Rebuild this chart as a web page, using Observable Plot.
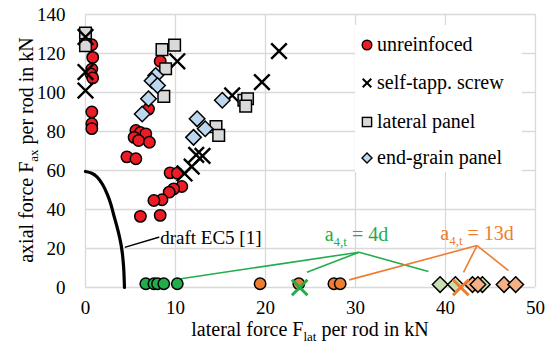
<!DOCTYPE html>
<html><head><meta charset="utf-8">
<script src="https://cdn.jsdelivr.net/npm/d3@7"></script>
<script src="https://cdn.jsdelivr.net/npm/@observablehq/plot@0.6"></script>
<style>
body{margin:0;background:#fff;}
#chart{position:relative;width:549px;height:343px;font-family:'Liberation Serif','Times New Roman',serif;}
#chart svg, #chart svg g, #chart svg text{font-family:'Liberation Serif','Times New Roman',serif !important;font-variant:normal !important;}
#legend{position:absolute;left:355px;top:25px;width:167px;height:147px;background:#fff;}
.lsym{position:absolute;left:4px;width:16px;height:16px;}
.ltxt{position:absolute;left:22px;font-size:20px;line-height:24px;color:#000;white-space:nowrap;}
</style></head><body><div id="chart"><div id="legend"></div></div>
<script>
// ---- data (x = lateral force kN, y = axial force kN) ----
const xTicks = [0, 10, 20, 30, 40, 50];
const yTicks = [0, 20, 40, 60, 80, 100, 120, 140];

const unreinforced = [[0.7,124.5],[0.8,118],[0.7,112],[0.6,109.5],[0.8,107.5],[0.7,90],[0.7,84],[0.7,81.5],
  [8.3,116],[7.0,91.5],[5.6,80.5],[6.1,79.5],[6.7,78.8],[5.4,77],[5.9,75.4],[7.1,74.5],[4.6,67],[5.6,66],
  [9.4,58.8],[10.2,58.6],[10.7,51.8],[9.8,50.6],[9.3,48.9],[8.5,45],[7.6,44.6],[6.1,36.5],[8.3,37]];
const selfTappScrew = [[0,110.5],[0,101],[10.2,116],[21.5,121.2],[19.6,105.3],[16.3,98.5],
  [12.3,68],[13.0,67.5],[11.8,62],[11.0,58.5]];
const lateralPanel = [[0,130.5],[0,124],[8.5,122],[9.9,124.3],[8.9,112.2],[8.7,98],[17.6,96],[18.0,96.8],[17.8,93],[14.5,82.5],[14.8,78]];
const screwOnTop = [[0,128.5]];
const endGrainPanel = [[7.8,108.7],[7.4,106],[8.0,103.6],[7.0,96.8],[6.3,89],[15.2,96],[12.4,86.5],[13.3,81.4],[12.0,77]];

const gap4dUnreinforced = [[6.7,1.9],[7.6,1.9],[8.0,1.9],[8.7,1.9],[10.2,1.9]];
const gap13dUnreinforced = [[19.4,1.9],[23.7,1.9],[27.6,1.9],[28.3,1.9]];
const gap4dScrew = [[23.8,0]];
const gap13dScrew = [[41.7,0]];
const gap4dEndGrain = [[39.4,1.5],[41.1,1.5],[44.1,1.5]];
const gap13dEndGrain = [[43.0,1.5],[43.6,1.5],[46.5,1.5],[47.8,1.5]];

const ec5Curve = [[0,59.5],[0.7,58.6],[1.3,56.6],[1.9,52.8],[2.4,48],[2.8,43],[3.1,37.8],[3.45,32],
  [3.7,27.5],[3.95,22],[4.1,17.3],[4.2,12.5],[4.26,8.7],[4.3,4],[4.33,0]];
const ec5Leader = [[4.44,20.7],[8.14,25.8]];
const ec5Label = [{x:8.3, y:25.6, text:"draft EC5 [1]"}];

const apex4d = [30.4,18.1];
const ends4d = [[10.6,4.5],[24.6,7.8],[38.1,8.2]];
const label4d = [{x:30.1, y:27.2, text:"a_{4,t} = 4d"}];
const apex13d = [43.5,21.5];
const ends13d = [[29.3,3.9],[42.0,7.8],[47.0,8.7]];
const label13d = [{x:43.5, y:27.5, text:"a_{4,t} = 13d"}];

const legendItems = [
  {label:"unreinfoced", kind:"circle", fill:"#ec1c24"},
  {label:"self-tapp. screw", kind:"times", fill:"none"},
  {label:"lateral panel", kind:"square", fill:"#d9d9d9"},
  {label:"end-grain panel", kind:"diamond", fill:"#bdd7ee"}
];

// ---- colours ----
const GREEN = "#22ad4b", ORANGE = "#ee7d31";
const SERIF = "Liberation Serif, Times New Roman, serif";

// custom symbols (size = PI r^2 as Plot passes)
const sym = kind => ({draw(ctx, size){
  const r = Math.sqrt(size / Math.PI);
  if (kind === "diamond") { const h = r * 1.25; ctx.moveTo(0,-h); ctx.lineTo(h,0); ctx.lineTo(0,h); ctx.lineTo(-h,0); ctx.closePath(); }
  else if (kind === "times") { ctx.moveTo(-r,-r); ctx.lineTo(r,r); ctx.moveTo(r,-r); ctx.lineTo(-r,r); }
  else if (kind === "square") { ctx.rect(-r,-r,2*r,2*r); }
}});
const X = d => d[0], Y = d => d[1];

const circles = (data, fill) => Plot.dot(data, {x:X, y:Y, r:5.7, fill, stroke:"#000", strokeWidth:1.5});
const squares = (data, fill) => Plot.dot(data, {x:X, y:Y, r:5.8, symbol:sym("square"), fill, stroke:"#000", strokeWidth:1.5});
const diamonds = (data, fill) => Plot.dot(data, {x:X, y:Y, r:6.2, symbol:sym("diamond"), fill, stroke:"#000", strokeWidth:1.5});
const crosses = (data, color, w) => Plot.dot(data, {x:X, y:Y, r:7.8, symbol:sym("times"), fill:"none", stroke:color, strokeWidth:w});

const plot = Plot.plot({
  width: 549, height: 343,
  marginLeft: 85, marginRight: 14, marginTop: 14, marginBottom: 56,
  style: {fontFamily: SERIF, fontSize: "19px", background: "transparent", overflow: "visible", color: "#000"},
  x: {domain: [0, 50]},
  y: {domain: [0, 140]},
  marks: [
    Plot.gridX({ticks: xTicks, stroke: "#d9d9d9", strokeOpacity: 1, strokeWidth: 1.3}),
    Plot.gridY({ticks: yTicks, stroke: "#d9d9d9", strokeOpacity: 1, strokeWidth: 1.3}),
    Plot.axisX({ticks: xTicks, tickSize: 0, tickPadding: 13, label: null, fontSize: 19, fontVariant: "normal"}),
    Plot.axisY({ticks: yTicks, tickSize: 0, tickPadding: 20, label: null, fontSize: 19, fontVariant: "normal"}),
    Plot.line(ec5Curve, {x:X, y:Y, stroke:"#000", strokeWidth:3.2, curve:"catmull-rom"}),
    Plot.line(ec5Leader, {x:X, y:Y, stroke:"#000", strokeWidth:1.5}),
    Plot.text(ec5Label, {x:"x", y:"y", text:"text", textAnchor:"start", fontSize:19, fill:"#000"}),
    Plot.link(ends4d, {x1:() => apex4d[0], y1:() => apex4d[1], x2:X, y2:Y, stroke:GREEN, strokeWidth:1.6}),
    Plot.link(ends13d, {x1:() => apex13d[0], y1:() => apex13d[1], x2:X, y2:Y, stroke:ORANGE, strokeWidth:1.6}),
    Plot.text(label4d, {x:"x", y:"y", text:"text", fontSize:20, fill:GREEN}),
    Plot.text(label13d, {x:"x", y:"y", text:"text", fontSize:20, fill:ORANGE}),
    circles(unreinforced, "#ec1c24"),
    crosses(selfTappScrew, "#000", 2.4),
    squares(lateralPanel, "#d9d9d9"),
    crosses(screwOnTop, "#000", 2.4),
    diamonds(endGrainPanel, "#bdd7ee"),
    circles(gap4dUnreinforced, GREEN),
    circles(gap13dUnreinforced, ORANGE),
    diamonds(gap4dEndGrain, "#c6e0b4"),
    diamonds(gap13dEndGrain, "#f5b183"),
    crosses(gap4dScrew, GREEN, 3),
    crosses(gap13dScrew, ORANGE, 3)
  ]
});
const chart = document.getElementById("chart");
chart.insertBefore(plot, chart.firstChild);
d3.select(plot).selectAll("g, text").attr("font-family", SERIF).attr("font-variant", "normal")
  .style("font-family", SERIF).style("font-variant", "normal");

// axis titles
const NS = "http://www.w3.org/2000/svg";
const svg = d3.select(plot);
svg.append("text").attr("x", 310).attr("y", 336).attr("text-anchor", "middle")
  .attr("font-size", 20).attr("fill", "#000").text("lateral force F_{lat} per rod in kN");
svg.append("text").attr("transform", "translate(33,150) rotate(-90)").attr("text-anchor", "middle")
  .attr("font-size", 20).attr("fill", "#000").text("axial force F_{ax} per rod in kN");

// subscripts
svg.selectAll("text").each(function(){
  const s = this.textContent;
  if (!s.includes("_{")) return;
  const fs = parseFloat(getComputedStyle(this).fontSize) || 19;
  this.textContent = "";
  let shifted = false;
  for (const p of s.split(/(_\{[^}]*\})/)) {
    if (!p) continue;
    const ts = document.createElementNS(NS, "tspan");
    if (p.startsWith("_{")) {
      ts.textContent = p.slice(2, -1);
      ts.setAttribute("font-size", (fs * 0.65) + "px");
      ts.setAttribute("dy", (fs * 0.24) + "px");
      shifted = true;
    } else {
      ts.textContent = p;
      if (shifted) { ts.setAttribute("dy", (-fs * 0.24) + "px"); shifted = false; }
    }
    this.appendChild(ts);
  }
});
plot.style.position = "absolute"; plot.style.left = "0"; plot.style.top = "0";
const legend = document.getElementById("legend");
legend.style.zIndex = 1;
plot.style.zIndex = 0;

// legend
const rowsY = [20, 58.3, 96.7, 133.3];
legendItems.forEach((it, i) => {
  const s = document.createElementNS(NS, "svg");
  s.setAttribute("class", "lsym"); s.setAttribute("viewBox", "-8 -8 16 16");
  s.style.top = (rowsY[i] - 8) + "px";
  let shape;
  if (it.kind === "circle") { shape = document.createElementNS(NS, "circle"); shape.setAttribute("r", 4.8); }
  else if (it.kind === "square") { shape = document.createElementNS(NS, "rect"); shape.setAttribute("x", -4.6); shape.setAttribute("y", -4.6); shape.setAttribute("width", 9.2); shape.setAttribute("height", 9.2); }
  else if (it.kind === "diamond") { shape = document.createElementNS(NS, "path"); shape.setAttribute("d", "M0,-5L5,0L0,5L-5,0Z"); }
  else { shape = document.createElementNS(NS, "path"); shape.setAttribute("d", "M-4.3,-4.3L4.3,4.3M4.3,-4.3L-4.3,4.3"); }
  shape.setAttribute("fill", it.fill); shape.setAttribute("stroke", "#000");
  shape.setAttribute("stroke-width", it.kind === "times" ? 2 : 1.4);
  s.appendChild(shape);
  legend.appendChild(s);
  const t = document.createElement("div");
  t.className = "ltxt"; t.textContent = it.label; t.style.top = (rowsY[i] - 13) + "px";
  legend.appendChild(t);
});
</script></body></html>
